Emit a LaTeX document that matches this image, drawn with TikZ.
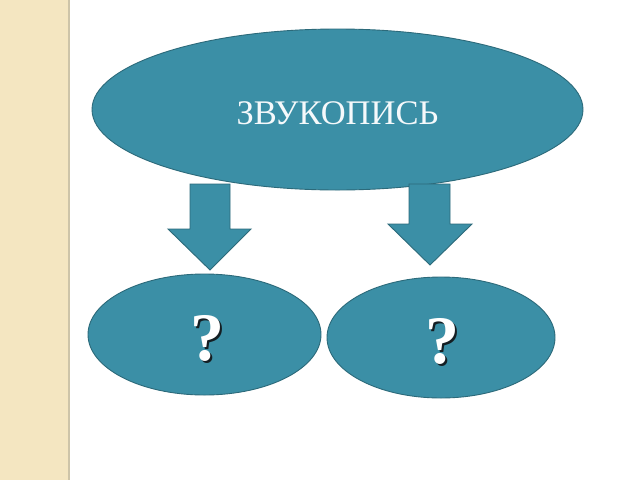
\documentclass[tikz,border=0pt]{standalone}
\usepackage{fontspec}
\setmainfont{Liberation Serif}
\usepackage{tikz}
\usetikzlibrary{shapes.geometric,positioning,calc}
\definecolor{zvteal}{RGB}{59,143,166}
\definecolor{zvedge}{RGB}{44,106,122}
\definecolor{zvbeige}{RGB}{244,230,193}
\definecolor{zvline}{RGB}{205,196,168}
\definecolor{zvshadow}{RGB}{20,30,35}
% question mark with its drop shadow
\newcommand{\zvquery}{\makebox[0pt][l]{\hspace{2pt}\raisebox{-2pt}{\color{zvshadow}?}}\color{white}?}

\begin{document}
\begin{tikzpicture}[x=1pt, y=-1pt,
    bubble/.style={ellipse, draw=zvedge, line width=0.9pt, fill=zvteal, inner sep=0pt},
    blockarrow/.style={draw=zvedge, line width=0.9pt, fill=zvteal, line join=miter},
    qmark/.style={font=\fontsize{68}{68}\selectfont\bfseries, inner sep=0pt}]
    \useasboundingbox (0,0) rectangle (640,480);
    \fill[white] (0,0) rectangle (640,480);

    % Left strip
    \fill[zvbeige] (0,0) rectangle (68,480);
    \draw[zvline, line width=1.2pt] (69,0) -- (69,480);

    % Top ellipse
    \node[bubble, minimum width=491pt, minimum height=161pt] (top) at (337.5,109.5) {};
    \node[text=white!95!zvteal, font=\fontsize{34.5}{34.5}\selectfont, inner sep=0pt] (title)
        at ([yshift=-4pt]top.center) {ЗВУКОПИСЬ};

    % Arrows
    \draw[blockarrow] (190,184) -- (230,184) -- (230,229) -- (251,229) -- (210,270)
        -- (168,229) -- (190,229) -- cycle;
    \draw[blockarrow] (409,184) -- (450,184) -- (450,224) -- (472,224) -- (430,265)
        -- (388,224) -- (409,224) -- cycle;

    % Bottom ellipses
    \node[bubble, minimum width=233pt, minimum height=121pt] (left) at (204.5,334.5) {};
    \node[bubble, minimum width=228pt, minimum height=121pt] (right) at (441,337.5) {};

    % Question marks
    \node[qmark] (lq) at ($(left.center)+(3,5)$) {\zvquery};
    \node[qmark] (rq) at ($(right.center)+(1,5)$) {\zvquery};
\end{tikzpicture}
\end{document}
